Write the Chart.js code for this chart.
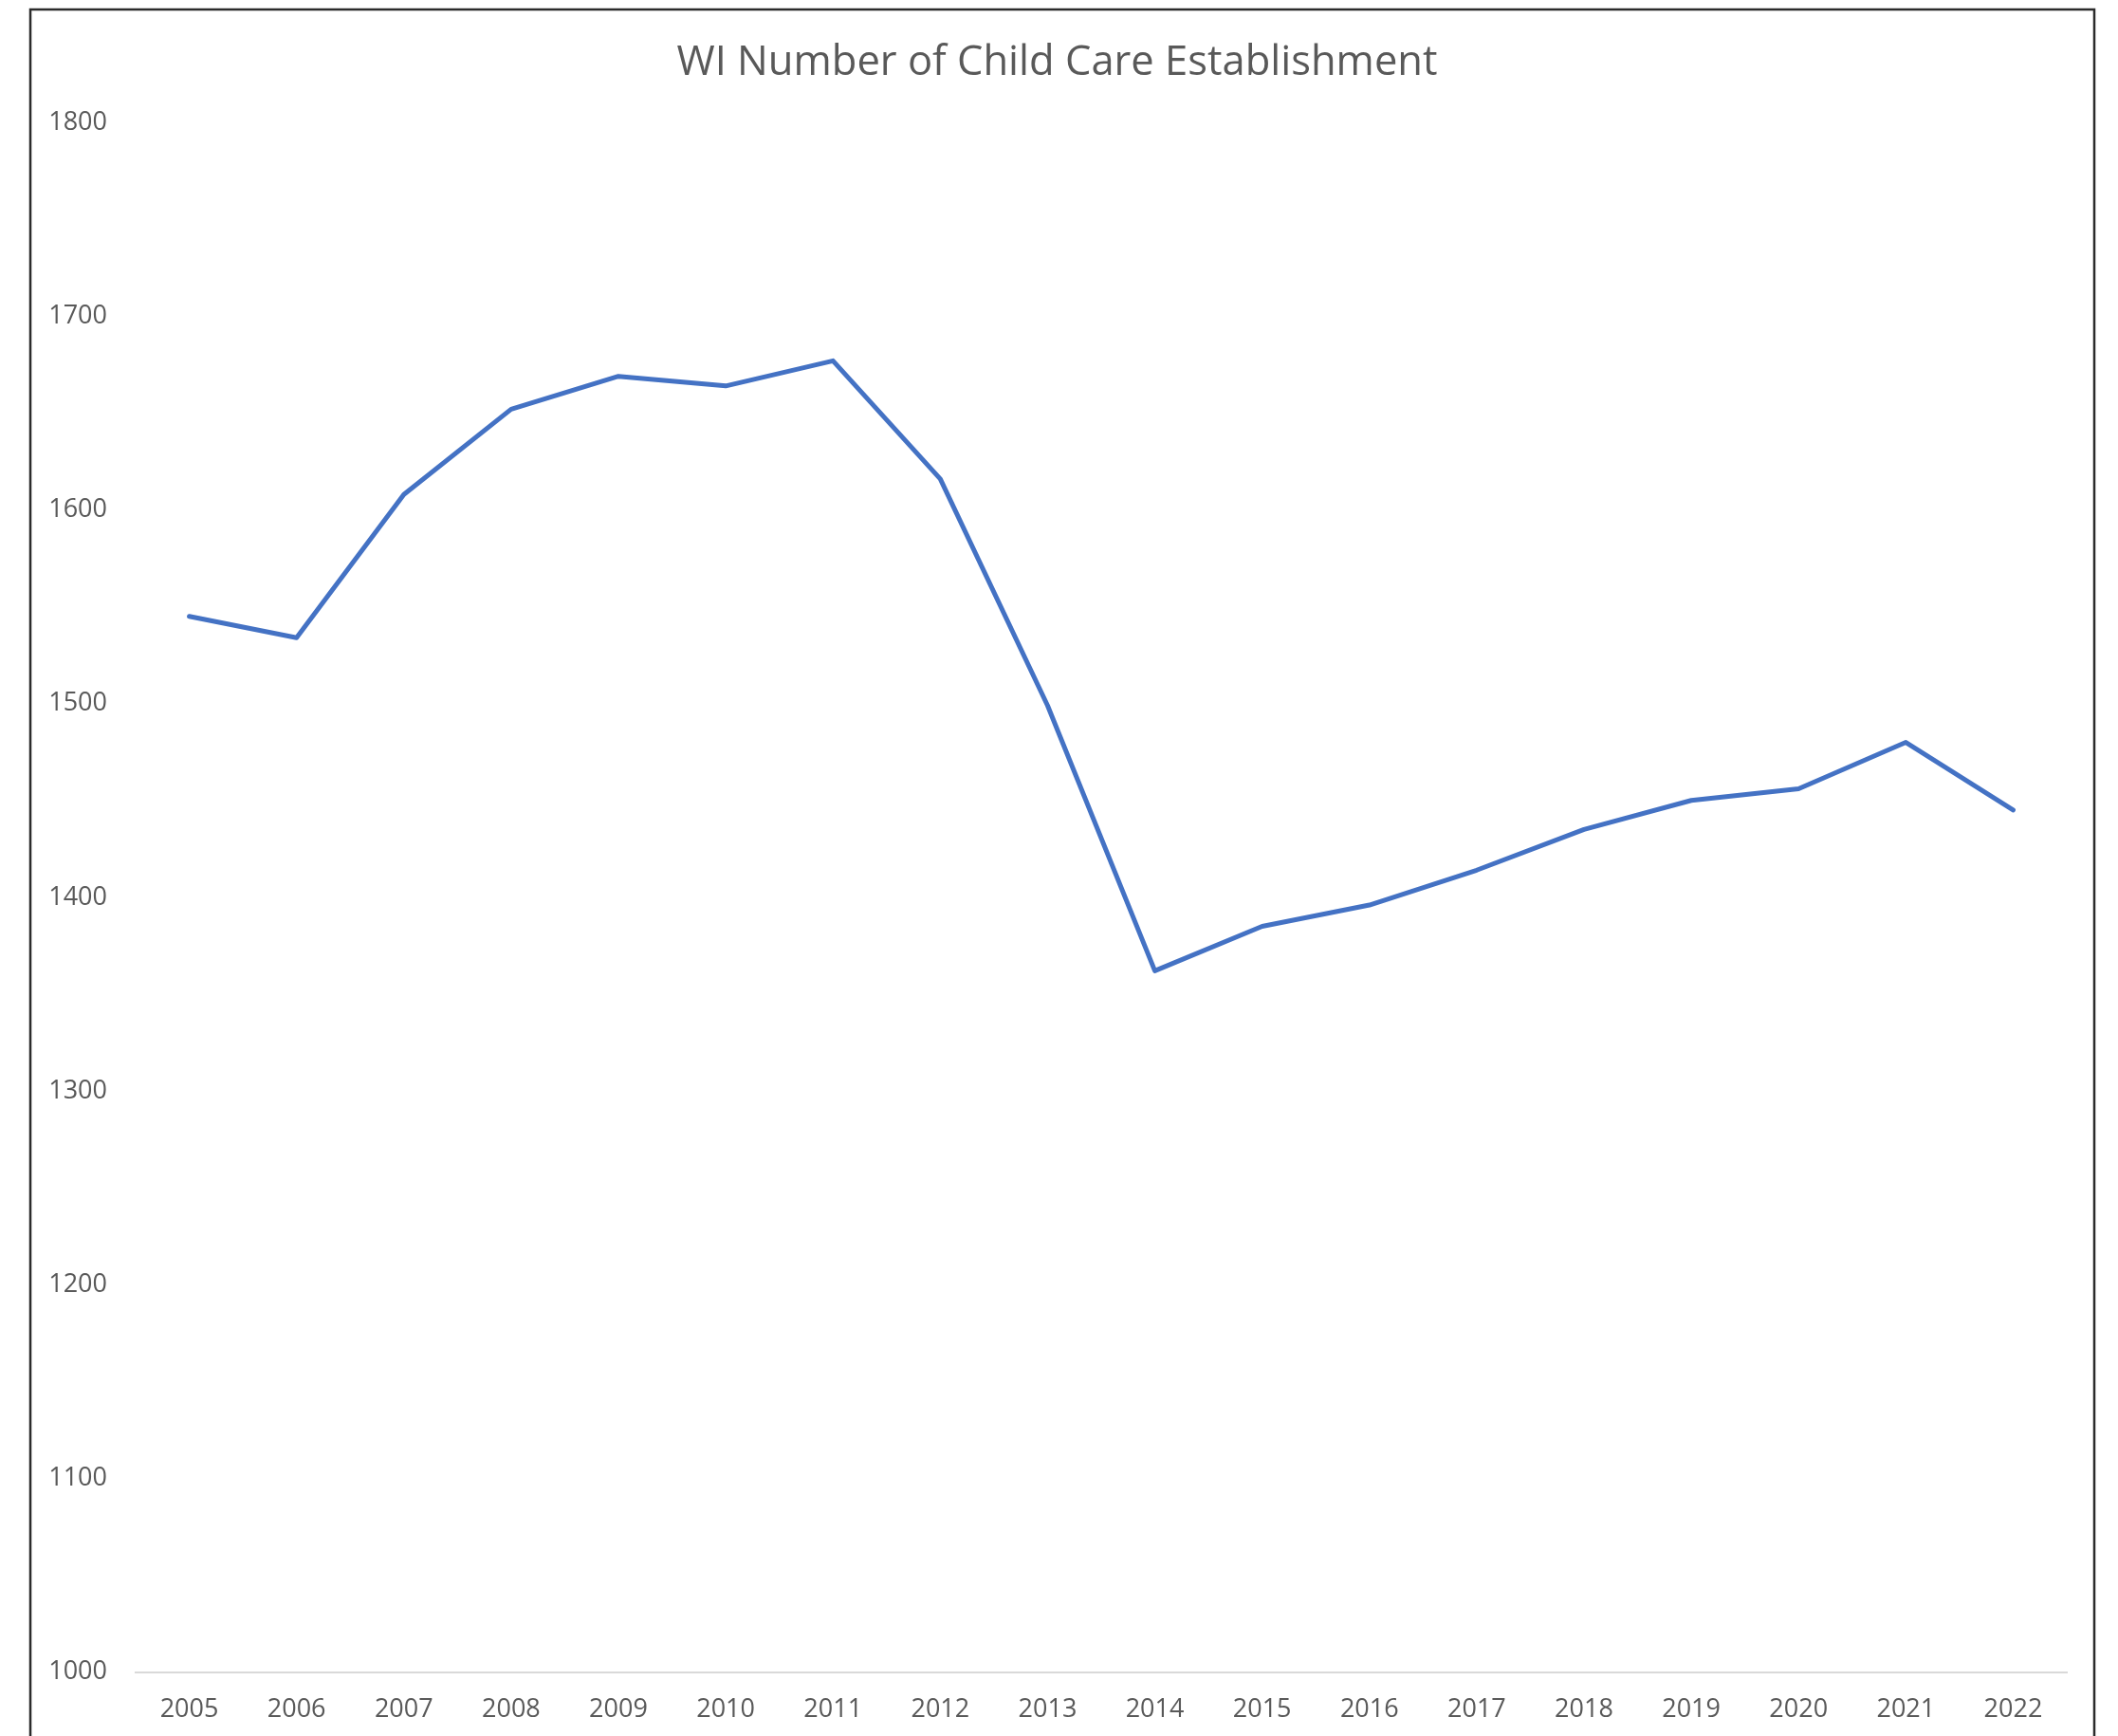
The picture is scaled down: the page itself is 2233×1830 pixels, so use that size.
<!DOCTYPE html>
<html>
<head>
<meta charset="utf-8">
<script src="https://cdn.jsdelivr.net/npm/chart.js@4.4.1/dist/chart.umd.min.js"></script>
<style>
  html, body { margin: 0; padding: 0; background: #ffffff; }
  #wrap { width: 2233px; height: 1830px; position: relative; }
  canvas { display: block; }
</style>
</head>
<body>
<div id="wrap"><canvas id="c" width="2233" height="1830"></canvas></div>
<script>
const chartTitle = "WI Number of Child Care Establishment";
const years = ["2005","2006","2007","2008","2009","2010","2011","2012","2013","2014","2015","2016","2017","2018","2019","2020","2021","2022"];
const establishments = [1545, 1534, 1608, 1652, 1669, 1664, 1677, 1616, 1499, 1362, 1385, 1396, 1414, 1435, 1450, 1456, 1480, 1445];
const yTickValues = [1000, 1100, 1200, 1300, 1400, 1500, 1600, 1700, 1800];

const textColor = "#595959";
const fontFamily = "'Open Sans', 'Noto Sans', sans-serif";

const framePlugin = {
  id: "frame",
  beforeDraw(chart) {
    const ctx = chart.ctx;
    ctx.save();
    ctx.fillStyle = "#ffffff";
    ctx.fillRect(0, 0, chart.width, chart.height);
    ctx.strokeStyle = "#2b2b2b";
    ctx.lineWidth = 2.5;
    ctx.strokeRect(32, 10, 2176, 1900);
    ctx.restore();
  }
};

new Chart(document.getElementById("c"), {
  type: "line",
  data: {
    labels: years,
    datasets: [{
      label: "Establishments",
      data: establishments,
      borderColor: "#4472C4",
      backgroundColor: "#4472C4",
      borderWidth: 5,
      borderCapStyle: "round",
      borderJoinStyle: "round",
      pointRadius: 0,
      pointHoverRadius: 0,
      tension: 0,
      fill: false
    }]
  },
  options: {
    responsive: false,
    devicePixelRatio: 1,
    animation: false,
    layout: { padding: { top: 13, left: 50, right: 54, bottom: 0 } },
    plugins: {
      legend: { display: false },
      tooltip: { enabled: false },
      title: {
        display: true,
        text: chartTitle,
        color: textColor,
        font: { family: fontFamily, size: 43.5, weight: "normal" },
        padding: { top: 28, bottom: 36 }
      }
    },
    scales: {
      x: {
        offset: true,
        grid: { display: false, drawTicks: false },
        border: { display: true, color: "#D9D9D9", width: 2 },
        ticks: {
          color: textColor,
          font: { family: fontFamily, size: 27 },
          padding: 24,
          maxRotation: 0,
          autoSkip: false
        },
        afterFit(scale) { scale.height = 67.5; }
      },
      y: {
        min: 1000,
        max: 1800,
        grid: { display: false, drawTicks: false },
        border: { display: false },
        afterBuildTicks(scale) {
          scale.ticks = yTickValues.map(v => ({ value: v }));
        },
        ticks: {
          color: textColor,
          font: { family: fontFamily, size: 27 },
          padding: 30,
          callback: (v) => String(v)
        },
        afterFit(scale) { scale.width = 93; }
      }
    }
  },
  plugins: [framePlugin]
});
</script>
</body>
</html>
